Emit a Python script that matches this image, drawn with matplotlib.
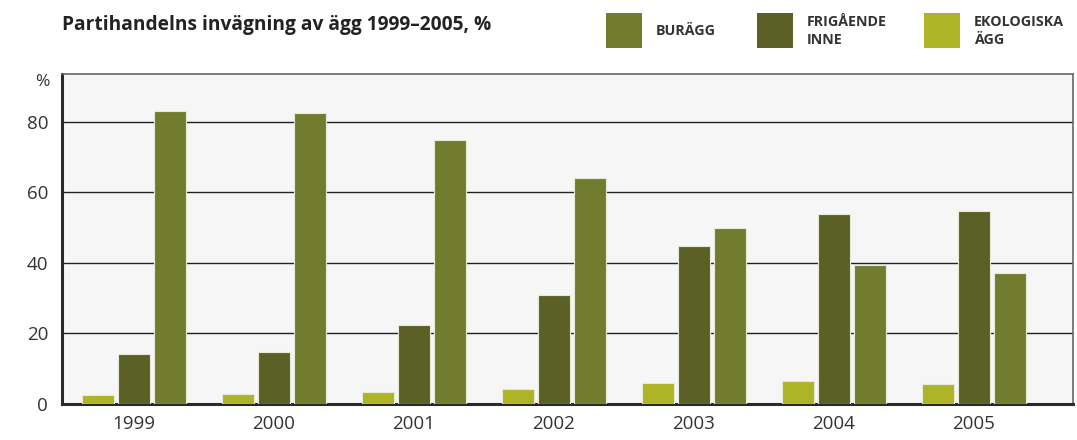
import numpy as np
import matplotlib.pyplot as plt
from matplotlib.patches import Rectangle

plt.rcParams['font.family'] = ['Open Sans', 'DejaVu Sans']

years = ['1999', '2000', '2001', '2002', '2003', '2004', '2005']
ekologiska = [2.6, 2.8, 3.4, 4.3, 6.0, 6.5, 5.7]
frigaende = [14.2, 14.8, 22.4, 30.9, 44.8, 53.9, 54.8]
buragg = [83.1, 82.6, 74.9, 64.1, 49.9, 39.4, 37.2]

c_bur = '#727c2f'
c_frig = '#5a6026'
c_eko = '#adb526'

fig = plt.figure(figsize=(10.77, 4.4), dpi=100)
ax = fig.add_axes([62 / 1077, 1 - 404 / 440, (1073 - 62) / 1077, (404 - 74) / 440])
ax.set_facecolor('#f5f6f5')

x = np.arange(len(years))
w = 0.229
off = 0.257
ax.bar(x - off, ekologiska, w, color=c_eko, edgecolor='#e8ead8', linewidth=0.8, zorder=3)
ax.bar(x, frigaende, w, color=c_frig, edgecolor='#e8ead8', linewidth=0.8, zorder=3)
ax.bar(x + off, buragg, w, color=c_bur, edgecolor='#e8ead8', linewidth=0.8, zorder=3)

ax.set_xlim(-0.514, 6.707)
ax.set_ylim(0, 93.6)
ax.set_yticks([0, 20, 40, 60, 80])
ax.set_xticks(x)
ax.set_xticklabels(years)
ax.yaxis.grid(True, color='#222222', linewidth=1.0, zorder=1)
ax.set_axisbelow(True)
ax.tick_params(axis='both', length=0, labelsize=13.5, colors='#333333')
ax.tick_params(axis='y', pad=10)
ax.tick_params(axis='x', pad=8)

ax.spines['left'].set_linewidth(2.2)
ax.spines['left'].set_color('#2a2a2a')
ax.spines['bottom'].set_linewidth(2.2)
ax.spines['bottom'].set_color('#2a2a2a')
ax.spines['top'].set_linewidth(1.2)
ax.spines['top'].set_color('#666666')
ax.spines['right'].set_linewidth(1.2)
ax.spines['right'].set_color('#666666')

fig.text(42 / 1077, 1 - 82 / 440, '%', fontsize=12.5, color='#333333', ha='center', va='center')

fig.text(62 / 1077, 1 - 25 / 440, 'Partihandelns invägning av ägg 1999–2005, %',
         fontsize=13.8, fontweight='bold', color='#222222', va='center')

legend_items = [('BURÄGG', c_bur, 606), ('FRIGÅENDE\nINNE', c_frig, 757), ('EKOLOGISKA\nÄGG', c_eko, 924)]
for label, col, px in legend_items:
    fig.patches.append(Rectangle((px / 1077, 1 - 48 / 440), 36 / 1077, 35 / 440,
                                 transform=fig.transFigure, facecolor=col, edgecolor='none'))
    fig.text((px + 50) / 1077, 1 - 31 / 440, label, fontsize=10.3, fontweight='bold',
             color='#333333', va='center', ha='left', linespacing=1.4)

fig.savefig('out.png', dpi=100)
